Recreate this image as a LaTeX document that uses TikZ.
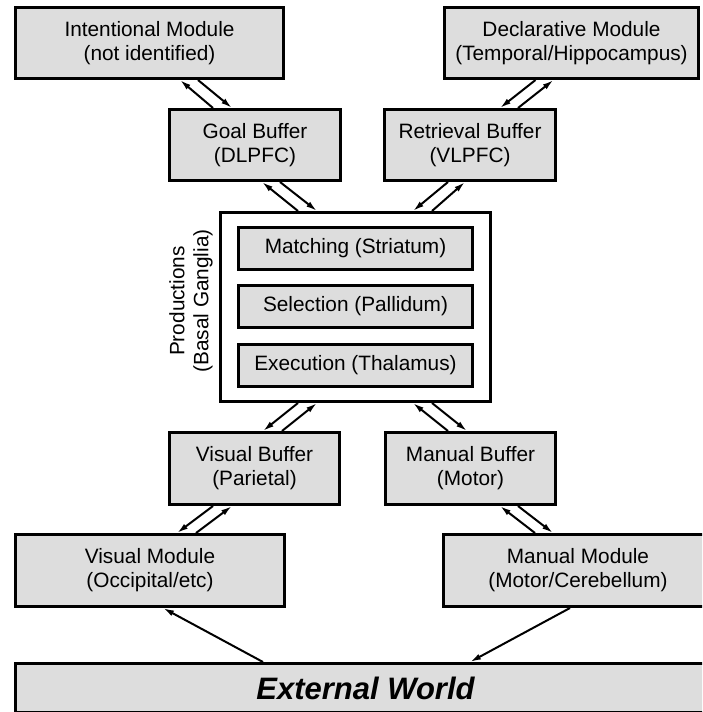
\documentclass[tikz,border=0pt]{standalone}
\usepackage{fontspec}
\setmainfont{Liberation Sans}
\usetikzlibrary{arrows.meta}
\definecolor{boxfill}{RGB}{221,221,221}
\tikzset{
  box/.style={draw=black, fill=boxfill, line width=2.8pt, inner sep=0pt,
              align=center, font=\fontsize{20.8}{24}\selectfont},
  outerbox/.style={draw=black, fill=white, line width=2.8pt, inner sep=0pt},
  link/.style={line width=2pt, -{Latex[length=11pt,width=6pt]}},
}
\begin{document}
\begin{tikzpicture}[x=1pt,y=-1pt]
\useasboundingbox (0,0) rectangle (702,712);
\clip (0,0) rectangle (702,712);

% modules and buffers
\node[box, minimum width=268.2pt, minimum height=71.2pt] (intent) at (149.5,43)
  {Intentional Module\\(not identified)};
\node[box, minimum width=254.2pt, minimum height=71.2pt] (decl) at (571.5,43)
  {Declarative Module\\(Temporal/Hippocampus)};
\node[box, minimum width=171.2pt, minimum height=71.2pt] (goal) at (255,145)
  {Goal Buffer\\(DLPFC)};
\node[box, minimum width=171.2pt, minimum height=71.2pt] (retr) at (470,145)
  {Retrieval Buffer\\(VLPFC)};

% production system
\node[outerbox, minimum width=270.2pt, minimum height=189.2pt] (prod) at (355.5,307) {};
\node[box, minimum width=234.2pt, minimum height=42.2pt] (match) at (355.5,248.5)
  {Matching (Striatum)};
\node[box, minimum width=234.2pt, minimum height=42.2pt] (select) at (355.5,306.5)
  {Selection (Pallidum)};
\node[box, minimum width=234.2pt, minimum height=42.2pt] (exec) at (355.5,365.5)
  {Execution (Thalamus)};
\node[rotate=90, align=center, inner sep=0pt, font=\fontsize{20.8}{24}\selectfont]
  (prodlabel) at (191,301) {Productions\\(Basal Ganglia)};

\node[box, minimum width=170.2pt, minimum height=72.2pt] (vbuf) at (254.5,468.5)
  {Visual Buffer\\(Parietal)};
\node[box, minimum width=170.2pt, minimum height=72.2pt] (mbuf) at (470.5,468.5)
  {Manual Buffer\\(Motor)};
\node[box, minimum width=269.2pt, minimum height=72.2pt] (vmod) at (150,570.5)
  {Visual Module\\(Occipital/etc)};
\node[box, minimum width=269.2pt, minimum height=72.2pt] (mmod) at (578,570.5)
  {Manual Module\\(Motor/Cerebellum)};
\node[box, minimum width=700.2pt, minimum height=49.2pt,
      font=\fontsize{31}{36}\selectfont\bfseries\itshape] (ext) at (365.5,688)
  {External World};

% two-way links
\draw[link] ([xshift=-42pt]goal.north) -- ([xshift=30.5pt]intent.south);
\draw[link] ([xshift=48.5pt]intent.south) -- ([xshift=-23pt]goal.north);

\draw[link] ([xshift=-57.5pt]prod.north) -- ([xshift=7pt]goal.south);
\draw[link] ([xshift=25pt]goal.south) -- ([xshift=-38.5pt]prod.north);

\draw[link] ([xshift=-36pt]decl.south) -- ([xshift=30pt]retr.north);
\draw[link] ([xshift=48pt]retr.north) -- ([xshift=-18pt]decl.south);

\draw[link] ([xshift=-22pt]retr.south) -- ([xshift=57.5pt]prod.north);
\draw[link] ([xshift=76.5pt]prod.north) -- ([xshift=-5pt]retr.south);

\draw[link] ([xshift=-57.5pt]prod.south) -- ([xshift=8.5pt]vbuf.north);
\draw[link] ([xshift=27.5pt]vbuf.north) -- ([xshift=-38.5pt]prod.south);

\draw[link] ([xshift=-41.5pt]vbuf.south) -- ([xshift=27pt]vmod.north);
\draw[link] ([xshift=46pt]vmod.north) -- ([xshift=-22.5pt]vbuf.south);

\draw[link] ([xshift=-22.5pt]mbuf.north) -- ([xshift=57.5pt]prod.south);
\draw[link] ([xshift=76.5pt]prod.south) -- ([xshift=-3.5pt]mbuf.north);

\draw[link] ([xshift=-43pt]mmod.north) -- ([xshift=29.5pt]mbuf.south);
\draw[link] ([xshift=47.5pt]mbuf.south) -- ([xshift=-25pt]mmod.north);

% perception and action
\draw[link] ([xshift=-102.5pt]ext.north) -- ([xshift=13pt]vmod.south);
\draw[link] ([xshift=-8pt]mmod.south) -- ([xshift=104.5pt]ext.north);
\end{tikzpicture}
\end{document}
